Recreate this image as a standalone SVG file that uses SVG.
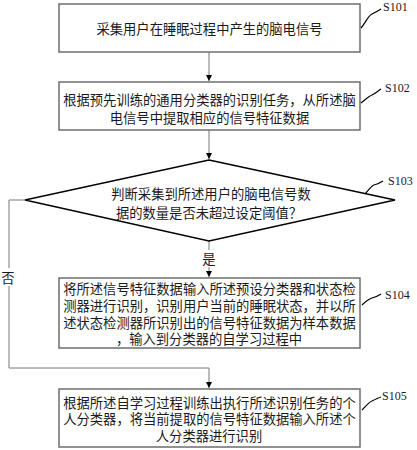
<svg xmlns="http://www.w3.org/2000/svg" width="417" height="450" viewBox="0 0 417 450">
<defs>
<marker id="ah" markerWidth="8" markerHeight="8" refX="6" refY="3" orient="auto" markerUnits="userSpaceOnUse">
<path d="M0,0 L6,3 L0,6 Z" fill="#000"/>
</marker>
<style>
.box{fill:#fff;stroke:#6e6e6e;stroke-width:1.5}
.dia{fill:#fff;stroke:#000;stroke-width:1.3}
.t{font-family:"Noto Sans CJK SC","Noto Sans",sans-serif;font-size:13.3px;fill:#1a1a1a;text-anchor:middle;dominant-baseline:central}
.lbl{font-family:"Liberation Serif",serif;font-size:12px;fill:#1a1a1a}
.c{fill:none;stroke:#777;stroke-width:1}
.sq{fill:none;stroke:#000;stroke-width:1.2}
</style>
</defs>
<rect width="417" height="450" fill="#fff"/>
<g id="connectors">
<line class="c" x1="209" y1="52" x2="209" y2="81" marker-end="url(#ah)"/>
<line class="c" x1="209" y1="130" x2="209" y2="159" marker-end="url(#ah)"/>
<line class="c" x1="209" y1="241" x2="209" y2="250"/>
<line class="c" x1="209" y1="267" x2="209" y2="277" marker-end="url(#ah)"/>
<polyline class="c" points="25,200 9,200 9,268"/>
<polyline class="c" points="9,286 9,368 209,368 209,388" marker-end="url(#ah)"/>
<text class="t" x="8" y="277">否</text>
<text class="t" x="209" y="258">是</text>
</g>
<g id="S101">
<rect class="box" x="59" y="4" width="301" height="48"/>
<text class="t" x="209.5" y="28">采集用户在睡眠过程中产生的脑电信号</text>
<path class="sq" d="M361,28 C366,22 368,16 372,14 C376,12 378,11 381,9"/>
<text class="lbl" x="383" y="11">S101</text>
</g>
<g id="S102">
<rect class="box" x="59" y="82" width="301" height="48"/>
<text class="t" x="209.5" y="99">根据预先训练的通用分类器的识别任务，从所述脑</text>
<text class="t" x="209.5" y="117">电信号中提取相应的信号特征数据</text>
<path class="sq" d="M361,103 C366,99 369,96 372,95 C376,93 378,91 381,89"/>
<text class="lbl" x="385" y="92">S102</text>
</g>
<g id="S103">
<polygon class="dia" points="209,160 395,200 209,241 25,200"/>
<text class="t" x="211" y="193">判断采集到所述用户的脑电信号数</text>
<text class="t" x="209" y="212">据的数量是否未超过设定阈值？</text>
<path class="sq" d="M365,194 C369,190 371,186 374,185 C378,184 380,183 383,181"/>
<text class="lbl" x="388" y="185">S103</text>
</g>
<g id="S104">
<rect class="box" x="59" y="278" width="301" height="70"/>
<text class="t" x="209.5" y="288">将所述信号特征数据输入所述预设分类器和状态检</text>
<text class="t" x="209.5" y="305">测器进行识别，识别用户当前的睡眠状态，并以所</text>
<text class="t" x="209.5" y="322">述状态检测器所识别出的信号特征数据为样本数据</text>
<text class="t" x="209" y="338">，输入到分类器的自学习过程中</text>
<path class="sq" d="M362,305 C366,301 369,299 372,298 C376,297 378,296 381,294"/>
<text class="lbl" x="385" y="299">S104</text>
</g>
<g id="S105">
<rect class="box" x="59" y="389" width="301" height="58"/>
<text class="t" x="209.5" y="402">根据所述自学习过程训练出执行所述识别任务的个</text>
<text class="t" x="209.5" y="418">人分类器，将当前提取的信号特征数据输入所述个</text>
<text class="t" x="209" y="435">人分类器进行识别</text>
<path class="sq" d="M362,410 C366,406 369,402 372,401 C376,399 378,398 381,397"/>
<text class="lbl" x="382" y="400">S105</text>
</g>
</svg>
